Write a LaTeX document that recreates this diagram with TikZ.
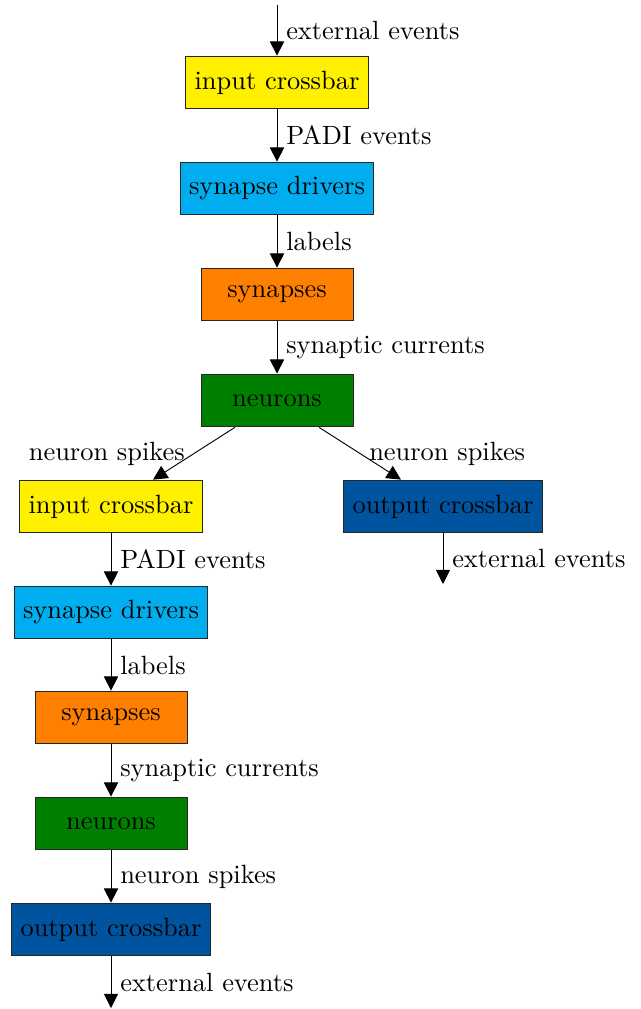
\documentclass[tikz,border=0pt]{standalone}
\usetikzlibrary{arrows.meta}
\definecolor{xbaryellow}{RGB}{255,240,0}
\definecolor{drivercyan}{RGB}{0,174,239}
\definecolor{synorange}{RGB}{255,128,0}
\definecolor{neurongreen}{RGB}{0,128,0}
\definecolor{outblue}{RGB}{0,84,159}
\begin{document}
\begin{tikzpicture}[x=0.3788pt,y=-0.3788pt,
  block/.style={draw=black!85, line width=0.35pt, minimum width=57.6pt,
                minimum height=20pt, inner sep=3.33pt},
  flow/.style={-{Triangle[length=5.4pt,width=5.4pt]}, line width=0.35pt}]
\useasboundingbox (0,0) rectangle (641,1009);

% first core
\node[block, fill=xbaryellow]  (icA) at (277,82.5)  {input crossbar};
\node[block, fill=drivercyan]  (sdA) at (277,188.5) {synapse drivers};
\node[block, fill=synorange]   (syA) at (277,294.5) {synapses};
\node[block, fill=neurongreen] (neA) at (277,400.5) {neurons};

% second core and output
\node[block, fill=xbaryellow]  (icB) at (111,506.5) {input crossbar};
\node[block, fill=drivercyan]  (sdB) at (111,612.5) {synapse drivers};
\node[block, fill=synorange]   (syB) at (111,717.5) {synapses};
\node[block, fill=neurongreen] (neB) at (111,823.5) {neurons};
\node[block, fill=outblue]     (ocB) at (111,929.5) {output crossbar};
\node[block, fill=outblue]     (ocA) at (443,506.5) {output crossbar};

\coordinate (inTop) at (277,5);
\coordinate (outRight) at (443,584);
\coordinate (outBottom) at (111,1008);

\draw[flow] (inTop) -- node[right] {external events} (icA);
\draw[flow] (icA) -- node[right] {PADI events} (sdA);
\draw[flow] (sdA) -- node[right] {labels} (syA);
\draw[flow] (syA) -- node[right] {synaptic currents} (neA);
\draw[flow] (neA) -- node[left] {neuron spikes} (icB);
\draw[flow] (neA) -- node[right] {neuron spikes} (ocA);
\draw[flow] (ocA) -- node[right] {external events} (outRight);
\draw[flow] (icB) -- node[right] {PADI events} (sdB);
\draw[flow] (sdB) -- node[right] {labels} (syB);
\draw[flow] (syB) -- node[right] {synaptic currents} (neB);
\draw[flow] (neB) -- node[right] {neuron spikes} (ocB);
\draw[flow] (ocB) -- node[right] {external events} (outBottom);
\end{tikzpicture}
\end{document}
